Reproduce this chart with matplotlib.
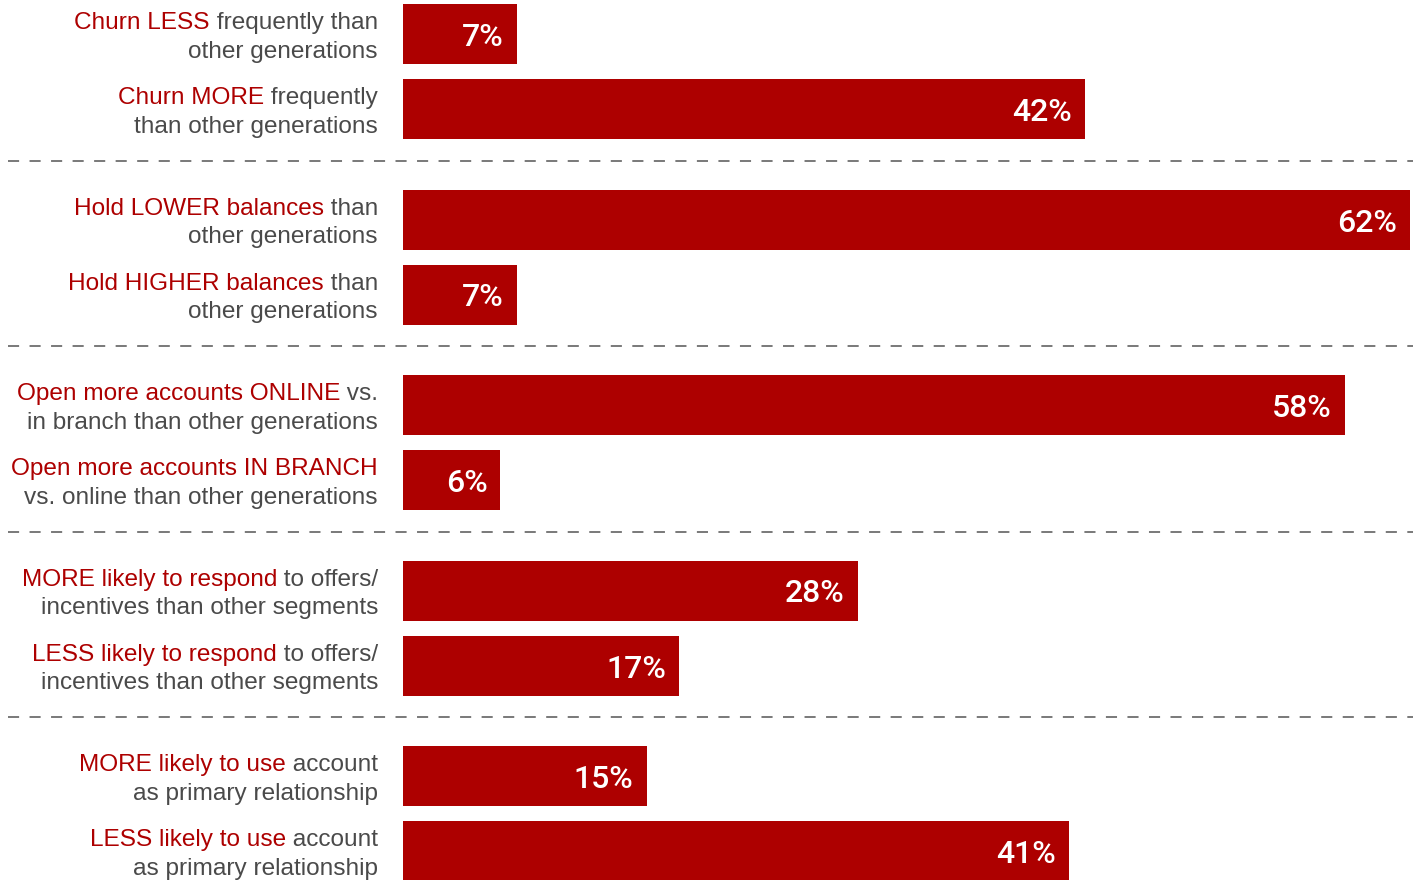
import re
import matplotlib
matplotlib.use("Agg")
import matplotlib.pyplot as plt
from matplotlib.offsetbox import TextArea, HPacker, VPacker, AnnotationBbox

# text in [brackets] is drawn in red, the rest in grey
labels = [
    "[Churn LESS] frequently than\nother generations",
    "[Churn MORE] frequently\nthan other generations",
    "[Hold LOWER balances] than\nother generations",
    "[Hold HIGHER balances] than\nother generations",
    "[Open more accounts ONLINE] vs.\nin branch than other generations",
    "[Open more accounts IN BRANCH]\nvs. online than other generations",
    "[MORE likely to respond] to offers/\nincentives than other segments",
    "[LESS likely to respond] to offers/\nincentives than other segments",
    "[MORE likely to use] account\nas primary relationship",
    "[LESS likely to use] account\nas primary relationship",
]
values = [7, 42, 62, 7, 58, 6, 28, 17, 15, 41]
groups = [0, 0, 1, 1, 2, 2, 3, 3, 4, 4]

RED = "#AD0000"
GREY = "#4A4A4A"
FONT = "Liberation Sans"
plt.rcParams["font.family"] = FONT
plt.rcParams["lines.scale_dashes"] = False

fig = plt.figure(figsize=(14.13, 8.8), dpi=100)
ax = fig.add_axes([403 / 1413, 0, 1010 / 1413, 1])
ax.set_xlim(0, 62 * 1010 / 1007)
ax.set_ylim(880, 0)
ax.axis("off")

pos = []
for i, g in enumerate(groups):
    first = groups.index(g)
    pos.append(34.5 + g * 185.5 + (i - first) * 75)

ax.barh(pos, values, height=60, color=RED)
for y, v in zip(pos, values):
    ax.annotate(f"{v}%", (v, y), xytext=(-13, -3), textcoords="offset pixels",
                ha="right", va="center", color="white", fontsize=23,
                family="Roboto", fontweight="medium")

# dashed separators between groups
for g in range(1, max(groups) + 1):
    y = 161 + (g - 1) * 185.5
    ax.axhline(y, xmin=(8 - 403) / 1010, xmax=1, clip_on=False,
               color="#555555", lw=1.1, dashes=(8, 7.5))


def line_box(line):
    parts = []
    for seg in re.split(r"(\[[^\]]*\])", line):
        if not seg:
            continue
        if seg.startswith("["):
            txt, col = seg[1:-1], RED
        else:
            txt, col = seg, GREY
        parts.append(TextArea(txt, textprops=dict(color=col, fontsize=17.6,
                                                  family=FONT)))
    return HPacker(children=parts, align="baseline", pad=0, sep=0)


for lab, y in zip(labels, pos):
    rows = [line_box(l) for l in lab.split("\n")]
    box = VPacker(children=rows, align="right", pad=0, sep=5)
    ab = AnnotationBbox(box, (378, y + 3), xycoords=("figure pixels", "data"),
                        box_alignment=(1, 0.5), frameon=False, pad=0)
    ax.add_artist(ab)

fig.savefig("out.png", dpi=100)
